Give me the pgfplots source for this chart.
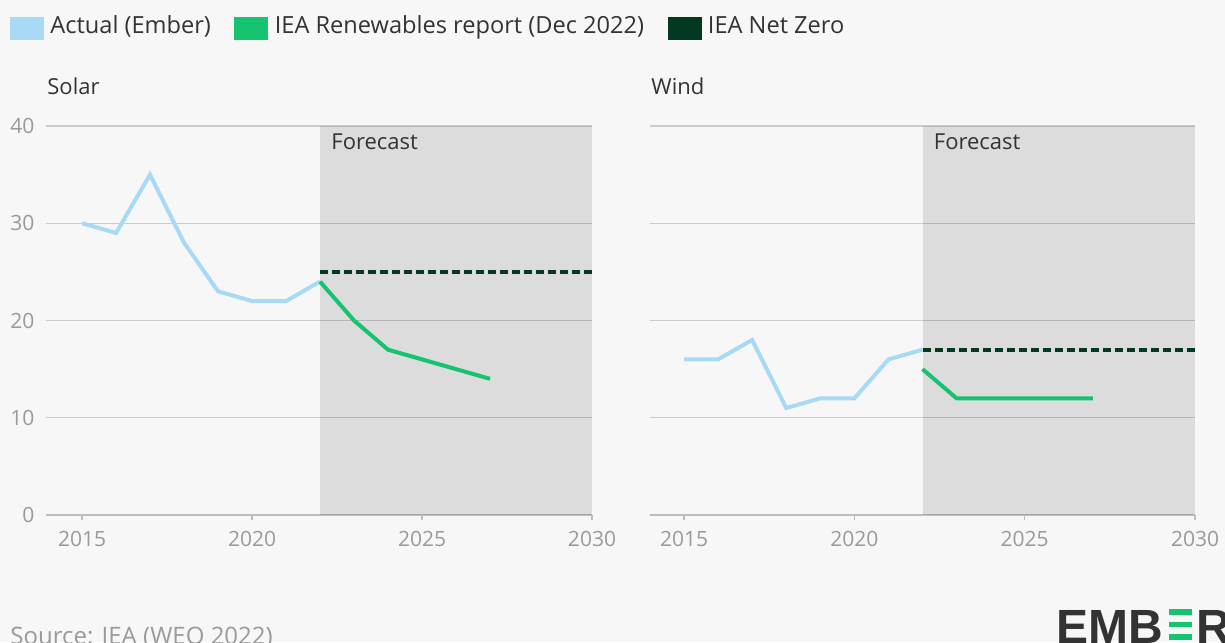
\documentclass[border=0pt]{standalone}
\usepackage{fontspec}
\setmainfont{Open Sans}
\newfontfamily\logofont{Liberation Sans}
\usepackage{pgfplots}
\pgfplotsset{compat=1.18}

\definecolor{bg}{HTML}{F7F7F7}
\definecolor{actual}{HTML}{A8DAF5}
\definecolor{ieagreen}{HTML}{16C470}
\definecolor{netzero}{HTML}{03391E}
\definecolor{gridgrey}{HTML}{CCCCCC}
\definecolor{axisgrey}{HTML}{BDBDBD}
\definecolor{ticktext}{HTML}{9A9A9A}
\definecolor{darktext}{HTML}{333333}

\newcommand\legfont{\fontsize{11.8}{14}\selectfont}
\newcommand\labfont{\fontsize{11}{13}\selectfont}

\pgfplotsset{
  panel/.style={
    scale only axis, height=194.5pt,
    ymin=0, ymax=40, xmax=2030,
    axis x line=bottom, axis y line=left,
    x axis line style={-, draw=axisgrey, line width=1pt},
    y axis line style={draw=none},
    xtick={2015,2020,2025,2030}, ytick={0,10,20,30,40},
    xtick align=outside, major tick length=2.5pt,
    xtick style={draw=axisgrey, line width=0.6pt},
    ytick style={draw=none},
    ymajorgrids, grid style={draw=gridgrey, line width=0.75pt},
    tick label style={font=\fontsize{10.5}{12}\selectfont, text=ticktext,
      /pgf/number format/assume math mode=true},
    xticklabel style={/pgf/number format/1000 sep={}, yshift=-2pt},
    yticklabel style={xshift=-1pt},
    clip=false,
  },
  forecast/.style={fill=black, fill opacity=0.105, draw=none, forget plot},
  actualline/.style={actual, line width=2pt},
  iealine/.style={ieagreen, line width=2pt},
  nzline/.style={netzero, line width=2pt, dash pattern=on 4pt off 2pt},
}

\begin{document}
\begin{tikzpicture}
\clip (0,0) rectangle (612.5pt,321pt);
\fill[bg] (0,0) rectangle (612.5pt,321pt);

% legend
\fill[actual] (5pt,301pt) rectangle ++(17pt,11.5pt);
\node[anchor=base west, inner sep=0, font=\legfont, text=darktext] (l1) at (25pt,304pt) {Actual (Ember)};
\fill[ieagreen] ([xshift=11.5pt,yshift=-3pt]l1.base east) rectangle ++(17pt,11.5pt);
\node[anchor=base west, inner sep=0, font=\legfont, text=darktext] (l2) at ([xshift=31.5pt]l1.base east) {IEA Renewables report (Dec 2022)};
\fill[netzero] ([xshift=11.5pt,yshift=-3pt]l2.base east) rectangle ++(17pt,11.5pt);
\node[anchor=base west, inner sep=0, font=\legfont, text=darktext] (l3) at ([xshift=31.5pt]l2.base east) {IEA Net Zero};

% panel titles
\node[anchor=base west, inner sep=0, font=\labfont, text=darktext] at (23.5pt,273.5pt) {Solar};
\node[anchor=base west, inner sep=0, font=\labfont, text=darktext] at (325.5pt,273.5pt) {Wind};

% Solar
\begin{axis}[panel, at={(23pt,63.5pt)}, anchor=south west,
  width=273pt, xmin=2013.94]
\addplot[forecast] coordinates {(2022,40) (2030,40)} \closedcycle;
\addplot[actualline] coordinates {
  (2015,30) (2016,29) (2017,35) (2018,28) (2019,23) (2020,22) (2021,22) (2022,24)};
\addplot[iealine] coordinates {
  (2022,24) (2023,20) (2024,17) (2025,16) (2026,15) (2027,14)};
\addplot[nzline] coordinates {(2022,25) (2030,25)};
\node[anchor=base west, inner sep=0, font=\labfont, text=darktext,
  xshift=5.5pt, yshift=-11.5pt] at (axis cs:2022,40) {Forecast};
\end{axis}

% Wind
\begin{axis}[panel, at={(325pt,63.5pt)}, anchor=south west,
  width=272.5pt, xmin=2014, yticklabels={}]
\addplot[forecast] coordinates {(2022,40) (2030,40)} \closedcycle;
\addplot[actualline] coordinates {
  (2015,16) (2016,16) (2017,18) (2018,11) (2019,12) (2020,12) (2021,16) (2022,17)};
\addplot[iealine] coordinates {
  (2022,15) (2023,12) (2024,12) (2025,12) (2026,12) (2027,12)};
\addplot[nzline] coordinates {(2022,17) (2030,17)};
\node[anchor=base west, inner sep=0, font=\labfont, text=darktext,
  xshift=5.5pt, yshift=-11.5pt] at (axis cs:2022,40) {Forecast};
\end{axis}

% source (cut off at the bottom edge, as in the original)
\node[anchor=base west, inner sep=0, font=\fontsize{12}{14}\selectfont, text=ticktext] at (5pt,-1.5pt) {Source: IEA (WEO 2022)};

% logo
\node[anchor=base west, inner sep=0, font=\logofont\bfseries\fontsize{24}{26}\selectfont, text=darktext] at (528pt,-1pt) {EMB};
\fill[ieagreen] (584.5pt,13.5pt) rectangle (596pt,16.5pt);
\fill[ieagreen] (584.5pt,7.5pt) rectangle (596pt,10pt);
\fill[ieagreen] (584.5pt,1pt) rectangle (596pt,4pt);
\node[anchor=base west, inner sep=0, font=\logofont\bfseries\fontsize{24}{26}\selectfont, text=darktext] at (598pt,-1pt) {R};
\end{tikzpicture}
\end{document}
